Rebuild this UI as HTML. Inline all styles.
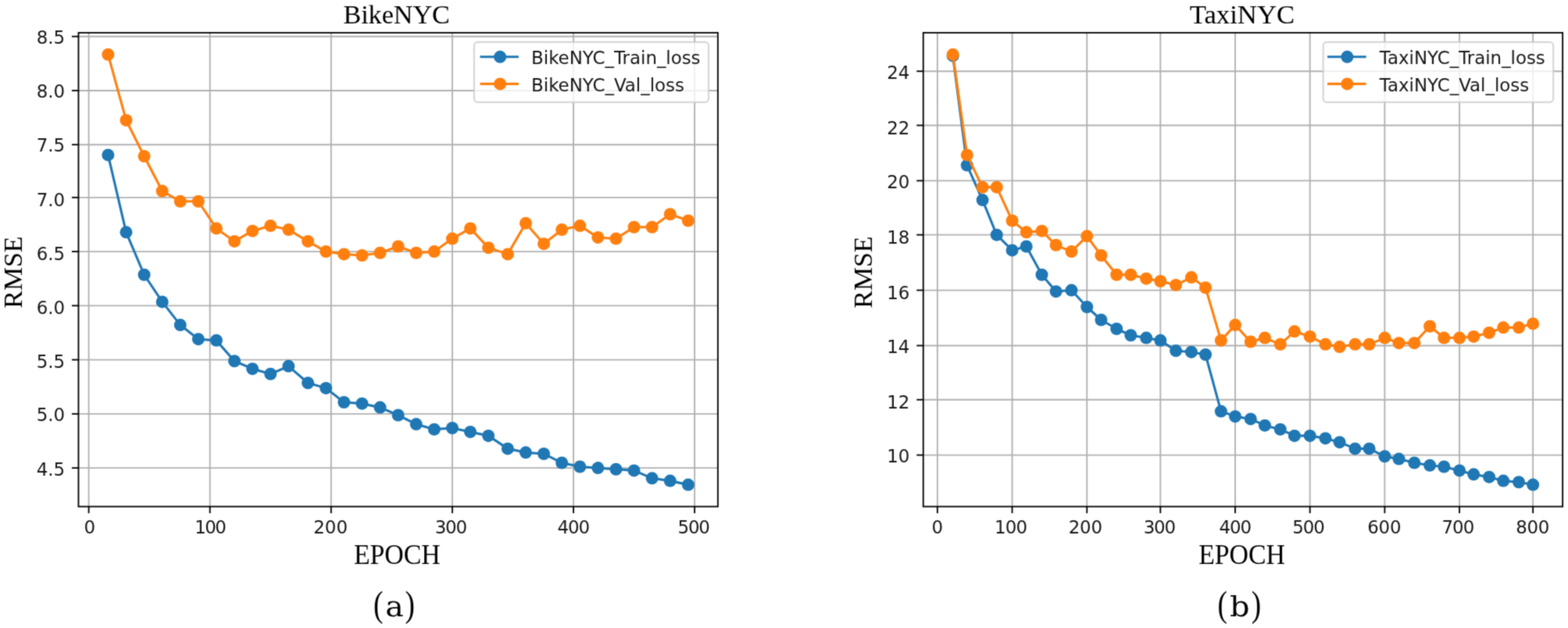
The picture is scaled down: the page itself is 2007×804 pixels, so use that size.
<!DOCTYPE html>
<html lang="en">
<head>
<meta charset="utf-8">
<title>BikeNYC / TaxiNYC training curves</title>
<style>
html, body { margin: 0; padding: 0; background: #ffffff; }
body { width: 2007px; height: 804px; overflow: hidden; }
svg { display: block; }
text { white-space: pre; }
</style>
</head>
<body>
<svg width="2007" height="804" viewBox="0 0 2007 804">
<defs>
<filter id="soft" x="0" y="0" width="2007" height="804" filterUnits="userSpaceOnUse" color-interpolation-filters="sRGB">
<feConvolveMatrix order="3" kernelMatrix="0.03240 0.11520 0.03240 0.11520 0.40960 0.11520 0.03240 0.11520 0.03240" divisor="1" bias="0" edgeMode="duplicate" preserveAlpha="true"/>
</filter>
</defs>
<rect x="0" y="0" width="2007" height="804" fill="#ffffff"/>
<g filter="url(#soft)">
<rect x="0" y="0" width="2007" height="804" fill="#ffffff"/>
<g id="plot1">
<g stroke="#b0b0b0" stroke-width="1.85" fill="none">
<line x1="113.6" y1="41.9" x2="113.6" y2="648.55"/>
<line x1="268.7" y1="41.9" x2="268.7" y2="648.55"/>
<line x1="423.8" y1="41.9" x2="423.8" y2="648.55"/>
<line x1="578.9" y1="41.9" x2="578.9" y2="648.55"/>
<line x1="734" y1="41.9" x2="734" y2="648.55"/>
<line x1="889.1" y1="41.9" x2="889.1" y2="648.55"/>
<line x1="100.45" y1="46.7" x2="918.85" y2="46.7"/>
<line x1="100.45" y1="115.96" x2="918.85" y2="115.96"/>
<line x1="100.45" y1="185.22" x2="918.85" y2="185.22"/>
<line x1="100.45" y1="252.82" x2="918.85" y2="252.82"/>
<line x1="100.45" y1="322.08" x2="918.85" y2="322.08"/>
<line x1="100.45" y1="391.34" x2="918.85" y2="391.34"/>
<line x1="100.45" y1="460.6" x2="918.85" y2="460.6"/>
<line x1="100.45" y1="529.86" x2="918.85" y2="529.86"/>
<line x1="100.45" y1="599.12" x2="918.85" y2="599.12"/>
</g>
<g fill="#1f77b4" stroke="none">
<polyline points="138.35,198.41 161.45,297.35 184.55,351.76 207.65,386.39 230.75,416.08 253.85,434.21 276.95,435.86 300.05,462.25 323.15,472.14 346.25,478.74 369.35,468.84 394.1,490.28 417.2,496.88 440.3,515.02 463.4,516.67 486.5,521.61 509.6,531.51 532.7,543.05 555.8,549.64 578.9,548 602,552.94 625.1,557.89 649.85,574.38 672.95,579.33 696.05,580.98 719.15,592.52 742.25,597.47 765.35,599.12 788.45,600.76 811.55,602.41 834.65,612.31 857.75,615.61 880.85,620.55" fill="none" stroke="#1f77b4" stroke-width="3.1" stroke-linejoin="round" stroke-linecap="square"/>
<circle cx="138.35" cy="198.41" r="8.0"/>
<circle cx="161.45" cy="297.35" r="8.0"/>
<circle cx="184.55" cy="351.76" r="8.0"/>
<circle cx="207.65" cy="386.39" r="8.0"/>
<circle cx="230.75" cy="416.08" r="8.0"/>
<circle cx="253.85" cy="434.21" r="8.0"/>
<circle cx="276.95" cy="435.86" r="8.0"/>
<circle cx="300.05" cy="462.25" r="8.0"/>
<circle cx="323.15" cy="472.14" r="8.0"/>
<circle cx="346.25" cy="478.74" r="8.0"/>
<circle cx="369.35" cy="468.84" r="8.0"/>
<circle cx="394.1" cy="490.28" r="8.0"/>
<circle cx="417.2" cy="496.88" r="8.0"/>
<circle cx="440.3" cy="515.02" r="8.0"/>
<circle cx="463.4" cy="516.67" r="8.0"/>
<circle cx="486.5" cy="521.61" r="8.0"/>
<circle cx="509.6" cy="531.51" r="8.0"/>
<circle cx="532.7" cy="543.05" r="8.0"/>
<circle cx="555.8" cy="549.64" r="8.0"/>
<circle cx="578.9" cy="548" r="8.0"/>
<circle cx="602" cy="552.94" r="8.0"/>
<circle cx="625.1" cy="557.89" r="8.0"/>
<circle cx="649.85" cy="574.38" r="8.0"/>
<circle cx="672.95" cy="579.33" r="8.0"/>
<circle cx="696.05" cy="580.98" r="8.0"/>
<circle cx="719.15" cy="592.52" r="8.0"/>
<circle cx="742.25" cy="597.47" r="8.0"/>
<circle cx="765.35" cy="599.12" r="8.0"/>
<circle cx="788.45" cy="600.76" r="8.0"/>
<circle cx="811.55" cy="602.41" r="8.0"/>
<circle cx="834.65" cy="612.31" r="8.0"/>
<circle cx="857.75" cy="615.61" r="8.0"/>
<circle cx="880.85" cy="620.55" r="8.0"/>
</g>
<g fill="#ff7f0e" stroke="none">
<polyline points="138.35,69.79 161.45,153.88 184.55,200.06 207.65,244.58 230.75,257.77 253.85,257.77 276.95,292.4 300.05,308.89 323.15,295.7 346.25,289.1 369.35,294.05 394.1,308.89 417.2,322.08 440.3,325.38 463.4,327.03 486.5,323.73 509.6,315.49 532.7,323.73 555.8,322.08 578.9,305.59 602,292.4 625.1,317.14 649.85,325.38 672.95,285.81 696.05,312.19 719.15,294.05 742.25,289.1 765.35,303.94 788.45,305.59 811.55,290.75 834.65,290.75 857.75,274.26 880.85,282.51" fill="none" stroke="#ff7f0e" stroke-width="3.1" stroke-linejoin="round" stroke-linecap="square"/>
<circle cx="138.35" cy="69.79" r="8.0"/>
<circle cx="161.45" cy="153.88" r="8.0"/>
<circle cx="184.55" cy="200.06" r="8.0"/>
<circle cx="207.65" cy="244.58" r="8.0"/>
<circle cx="230.75" cy="257.77" r="8.0"/>
<circle cx="253.85" cy="257.77" r="8.0"/>
<circle cx="276.95" cy="292.4" r="8.0"/>
<circle cx="300.05" cy="308.89" r="8.0"/>
<circle cx="323.15" cy="295.7" r="8.0"/>
<circle cx="346.25" cy="289.1" r="8.0"/>
<circle cx="369.35" cy="294.05" r="8.0"/>
<circle cx="394.1" cy="308.89" r="8.0"/>
<circle cx="417.2" cy="322.08" r="8.0"/>
<circle cx="440.3" cy="325.38" r="8.0"/>
<circle cx="463.4" cy="327.03" r="8.0"/>
<circle cx="486.5" cy="323.73" r="8.0"/>
<circle cx="509.6" cy="315.49" r="8.0"/>
<circle cx="532.7" cy="323.73" r="8.0"/>
<circle cx="555.8" cy="322.08" r="8.0"/>
<circle cx="578.9" cy="305.59" r="8.0"/>
<circle cx="602" cy="292.4" r="8.0"/>
<circle cx="625.1" cy="317.14" r="8.0"/>
<circle cx="649.85" cy="325.38" r="8.0"/>
<circle cx="672.95" cy="285.81" r="8.0"/>
<circle cx="696.05" cy="312.19" r="8.0"/>
<circle cx="719.15" cy="294.05" r="8.0"/>
<circle cx="742.25" cy="289.1" r="8.0"/>
<circle cx="765.35" cy="303.94" r="8.0"/>
<circle cx="788.45" cy="305.59" r="8.0"/>
<circle cx="811.55" cy="290.75" r="8.0"/>
<circle cx="834.65" cy="290.75" r="8.0"/>
<circle cx="857.75" cy="274.26" r="8.0"/>
<circle cx="880.85" cy="282.51" r="8.0"/>
</g>
<rect x="100.45" y="41.9" width="818.4" height="606.65" fill="none" stroke="#000000" stroke-width="1.85"/>
<g stroke="#000000" stroke-width="1.85">
<line x1="113.6" y1="648.55" x2="113.6" y2="657.05"/>
<line x1="268.7" y1="648.55" x2="268.7" y2="657.05"/>
<line x1="423.8" y1="648.55" x2="423.8" y2="657.05"/>
<line x1="578.9" y1="648.55" x2="578.9" y2="657.05"/>
<line x1="734" y1="648.55" x2="734" y2="657.05"/>
<line x1="889.1" y1="648.55" x2="889.1" y2="657.05"/>
<line x1="91.95" y1="46.7" x2="100.45" y2="46.7"/>
<line x1="91.95" y1="115.96" x2="100.45" y2="115.96"/>
<line x1="91.95" y1="185.22" x2="100.45" y2="185.22"/>
<line x1="91.95" y1="252.82" x2="100.45" y2="252.82"/>
<line x1="91.95" y1="322.08" x2="100.45" y2="322.08"/>
<line x1="91.95" y1="391.34" x2="100.45" y2="391.34"/>
<line x1="91.95" y1="460.6" x2="100.45" y2="460.6"/>
<line x1="91.95" y1="529.86" x2="100.45" y2="529.86"/>
<line x1="91.95" y1="599.12" x2="100.45" y2="599.12"/>
</g>
<g font-family="'DejaVu Sans', 'Liberation Sans', sans-serif" font-size="22.9" fill="#161616">
<text x="107.62" y="682.8">0</text>
<text x="249.15" y="682.8" letter-spacing="-1.5">100</text>
<text x="401.25" y="682.8">200</text>
<text x="556.75" y="682.8" letter-spacing="-1.2">300</text>
<text x="713.45" y="682.8" letter-spacing="-1">400</text>
<text x="867.55" y="682.8" letter-spacing="-1.2">500</text>
<text x="83.05" y="55.9" text-anchor="end">8.5</text>
<text x="83.05" y="125.16" text-anchor="end">8.0</text>
<text x="83.05" y="194.42" text-anchor="end">7.5</text>
<text x="83.05" y="263.68" text-anchor="end">7.0</text>
<text x="83.05" y="332.93" text-anchor="end">6.5</text>
<text x="83.05" y="402.19" text-anchor="end">6.0</text>
<text x="83.05" y="471.45" text-anchor="end">5.5</text>
<text x="83.05" y="539.06" text-anchor="end">5.0</text>
<text x="83.05" y="609.41" text-anchor="end">4.5</text>
</g>
<g font-family="'Liberation Serif', 'DejaVu Serif', serif" font-size="34.4" fill="#000000">
<text x="507.6" y="29.5" text-anchor="middle" font-size="34.4" textLength="136.4" lengthAdjust="spacingAndGlyphs">BikeNYC</text>
<text x="508.35" y="722.1" text-anchor="middle" font-size="34.8" textLength="110.9" lengthAdjust="spacingAndGlyphs">EPOCH</text>
<text transform="translate(27.9,348.6) rotate(-90)" text-anchor="middle" font-size="34.4" textLength="92.2" lengthAdjust="spacingAndGlyphs">RMSE</text>
</g>
<g>
<rect x="606.9" y="53.9" width="300.1" height="76.9" rx="4.5" ry="4.5" fill="#ffffff" fill-opacity="0.8" stroke="#cccccc" stroke-opacity="0.8" stroke-width="2.2"/>
<line x1="616.0" y1="72.8" x2="662.3" y2="72.8" stroke="#1f77b4" stroke-width="3.1" stroke-linecap="square"/>
<circle cx="640.1" cy="72.8" r="8.0" fill="#1f77b4"/>
<line x1="616.0" y1="107.4" x2="662.3" y2="107.4" stroke="#ff7f0e" stroke-width="3.1" stroke-linecap="square"/>
<circle cx="640.1" cy="107.4" r="8.0" fill="#ff7f0e"/>
<g font-family="'DejaVu Sans', 'Liberation Sans', sans-serif" font-size="22.9" fill="#161616">
<text x="680.1" y="82.3">BikeNYC_Train_loss</text>
<text x="680.1" y="116.8">BikeNYC_Val_loss</text>
</g></g>
<text font-family="'Liberation Serif', 'DejaVu Serif', serif" font-size="46.2" fill="#000000" y="788.9"><tspan x="478" y="788.9" textLength="12.4" lengthAdjust="spacingAndGlyphs">(</tspan><tspan x="493.2" y="788.6" font-family="'DejaVu Serif', 'Liberation Serif', serif" font-size="35" textLength="23.4" lengthAdjust="spacingAndGlyphs">a</tspan><tspan x="518.4" y="788.9" textLength="12.4" lengthAdjust="spacingAndGlyphs">)</tspan></text>
</g>
<g id="plot2">
<g stroke="#b0b0b0" stroke-width="1.85" fill="none">
<line x1="1199.85" y1="41.9" x2="1199.85" y2="648.55"/>
<line x1="1295.55" y1="41.9" x2="1295.55" y2="648.55"/>
<line x1="1391.25" y1="41.9" x2="1391.25" y2="648.55"/>
<line x1="1485.3" y1="41.9" x2="1485.3" y2="648.55"/>
<line x1="1581" y1="41.9" x2="1581" y2="648.55"/>
<line x1="1676.7" y1="41.9" x2="1676.7" y2="648.55"/>
<line x1="1772.4" y1="41.9" x2="1772.4" y2="648.55"/>
<line x1="1868.1" y1="41.9" x2="1868.1" y2="648.55"/>
<line x1="1962.15" y1="41.9" x2="1962.15" y2="648.55"/>
<line x1="1181.75" y1="91.22" x2="2000.15" y2="91.22"/>
<line x1="1181.75" y1="160.48" x2="2000.15" y2="160.48"/>
<line x1="1181.75" y1="231.39" x2="2000.15" y2="231.39"/>
<line x1="1181.75" y1="300.65" x2="2000.15" y2="300.65"/>
<line x1="1181.75" y1="371.55" x2="2000.15" y2="371.55"/>
<line x1="1181.75" y1="442.46" x2="2000.15" y2="442.46"/>
<line x1="1181.75" y1="511.72" x2="2000.15" y2="511.72"/>
<line x1="1181.75" y1="582.62" x2="2000.15" y2="582.62"/>
</g>
<g fill="#1f77b4" stroke="none">
<polyline points="1219.65,71.44 1237.8,211.6 1257.6,256.12 1275.75,300.65 1295.55,320.43 1313.7,315.49 1333.5,351.76 1351.65,373.2 1371.45,371.55 1391.25,392.99 1409.4,409.48 1429.2,421.02 1447.35,429.27 1467.15,432.57 1485.3,435.86 1505.1,449.06 1524.9,450.7 1543.05,454 1562.85,526.56 1581,533.15 1600.8,536.45 1618.95,544.7 1638.75,549.64 1656.9,557.89 1676.7,557.89 1696.5,561.19 1714.65,566.14 1734.45,574.38 1752.6,574.38 1772.4,584.27 1790.55,587.57 1810.35,592.52 1830.15,595.82 1848.3,597.47 1868.1,602.41 1886.25,607.36 1906.05,610.66 1924.2,615.61 1944,617.25 1962.15,620.55" fill="none" stroke="#1f77b4" stroke-width="3.1" stroke-linejoin="round" stroke-linecap="square"/>
<circle cx="1219.65" cy="71.44" r="8.0"/>
<circle cx="1237.8" cy="211.6" r="8.0"/>
<circle cx="1257.6" cy="256.12" r="8.0"/>
<circle cx="1275.75" cy="300.65" r="8.0"/>
<circle cx="1295.55" cy="320.43" r="8.0"/>
<circle cx="1313.7" cy="315.49" r="8.0"/>
<circle cx="1333.5" cy="351.76" r="8.0"/>
<circle cx="1351.65" cy="373.2" r="8.0"/>
<circle cx="1371.45" cy="371.55" r="8.0"/>
<circle cx="1391.25" cy="392.99" r="8.0"/>
<circle cx="1409.4" cy="409.48" r="8.0"/>
<circle cx="1429.2" cy="421.02" r="8.0"/>
<circle cx="1447.35" cy="429.27" r="8.0"/>
<circle cx="1467.15" cy="432.57" r="8.0"/>
<circle cx="1485.3" cy="435.86" r="8.0"/>
<circle cx="1505.1" cy="449.06" r="8.0"/>
<circle cx="1524.9" cy="450.7" r="8.0"/>
<circle cx="1543.05" cy="454" r="8.0"/>
<circle cx="1562.85" cy="526.56" r="8.0"/>
<circle cx="1581" cy="533.15" r="8.0"/>
<circle cx="1600.8" cy="536.45" r="8.0"/>
<circle cx="1618.95" cy="544.7" r="8.0"/>
<circle cx="1638.75" cy="549.64" r="8.0"/>
<circle cx="1656.9" cy="557.89" r="8.0"/>
<circle cx="1676.7" cy="557.89" r="8.0"/>
<circle cx="1696.5" cy="561.19" r="8.0"/>
<circle cx="1714.65" cy="566.14" r="8.0"/>
<circle cx="1734.45" cy="574.38" r="8.0"/>
<circle cx="1752.6" cy="574.38" r="8.0"/>
<circle cx="1772.4" cy="584.27" r="8.0"/>
<circle cx="1790.55" cy="587.57" r="8.0"/>
<circle cx="1810.35" cy="592.52" r="8.0"/>
<circle cx="1830.15" cy="595.82" r="8.0"/>
<circle cx="1848.3" cy="597.47" r="8.0"/>
<circle cx="1868.1" cy="602.41" r="8.0"/>
<circle cx="1886.25" cy="607.36" r="8.0"/>
<circle cx="1906.05" cy="610.66" r="8.0"/>
<circle cx="1924.2" cy="615.61" r="8.0"/>
<circle cx="1944" cy="617.25" r="8.0"/>
<circle cx="1962.15" cy="620.55" r="8.0"/>
</g>
<g fill="#ff7f0e" stroke="none">
<polyline points="1219.65,69.79 1237.8,198.41 1257.6,239.63 1275.75,239.63 1295.55,282.51 1313.7,297.35 1333.5,295.7 1351.65,313.84 1371.45,322.08 1391.25,302.3 1409.4,327.03 1429.2,351.76 1447.35,351.76 1467.15,356.71 1485.3,360.01 1505.1,364.96 1524.9,355.06 1543.05,368.25 1562.85,435.86 1581,416.08 1600.8,437.51 1618.95,432.57 1638.75,440.81 1656.9,424.32 1676.7,430.92 1696.5,440.81 1714.65,444.11 1734.45,440.81 1752.6,440.81 1772.4,432.57 1790.55,439.16 1810.35,439.16 1830.15,417.72 1848.3,432.57 1868.1,432.57 1886.25,430.92 1906.05,425.97 1924.2,419.37 1944,419.37 1962.15,414.43" fill="none" stroke="#ff7f0e" stroke-width="3.1" stroke-linejoin="round" stroke-linecap="square"/>
<circle cx="1219.65" cy="69.79" r="8.0"/>
<circle cx="1237.8" cy="198.41" r="8.0"/>
<circle cx="1257.6" cy="239.63" r="8.0"/>
<circle cx="1275.75" cy="239.63" r="8.0"/>
<circle cx="1295.55" cy="282.51" r="8.0"/>
<circle cx="1313.7" cy="297.35" r="8.0"/>
<circle cx="1333.5" cy="295.7" r="8.0"/>
<circle cx="1351.65" cy="313.84" r="8.0"/>
<circle cx="1371.45" cy="322.08" r="8.0"/>
<circle cx="1391.25" cy="302.3" r="8.0"/>
<circle cx="1409.4" cy="327.03" r="8.0"/>
<circle cx="1429.2" cy="351.76" r="8.0"/>
<circle cx="1447.35" cy="351.76" r="8.0"/>
<circle cx="1467.15" cy="356.71" r="8.0"/>
<circle cx="1485.3" cy="360.01" r="8.0"/>
<circle cx="1505.1" cy="364.96" r="8.0"/>
<circle cx="1524.9" cy="355.06" r="8.0"/>
<circle cx="1543.05" cy="368.25" r="8.0"/>
<circle cx="1562.85" cy="435.86" r="8.0"/>
<circle cx="1581" cy="416.08" r="8.0"/>
<circle cx="1600.8" cy="437.51" r="8.0"/>
<circle cx="1618.95" cy="432.57" r="8.0"/>
<circle cx="1638.75" cy="440.81" r="8.0"/>
<circle cx="1656.9" cy="424.32" r="8.0"/>
<circle cx="1676.7" cy="430.92" r="8.0"/>
<circle cx="1696.5" cy="440.81" r="8.0"/>
<circle cx="1714.65" cy="444.11" r="8.0"/>
<circle cx="1734.45" cy="440.81" r="8.0"/>
<circle cx="1752.6" cy="440.81" r="8.0"/>
<circle cx="1772.4" cy="432.57" r="8.0"/>
<circle cx="1790.55" cy="439.16" r="8.0"/>
<circle cx="1810.35" cy="439.16" r="8.0"/>
<circle cx="1830.15" cy="417.72" r="8.0"/>
<circle cx="1848.3" cy="432.57" r="8.0"/>
<circle cx="1868.1" cy="432.57" r="8.0"/>
<circle cx="1886.25" cy="430.92" r="8.0"/>
<circle cx="1906.05" cy="425.97" r="8.0"/>
<circle cx="1924.2" cy="419.37" r="8.0"/>
<circle cx="1944" cy="419.37" r="8.0"/>
<circle cx="1962.15" cy="414.43" r="8.0"/>
</g>
<rect x="1181.75" y="41.9" width="818.4" height="606.65" fill="none" stroke="#000000" stroke-width="1.85"/>
<g stroke="#000000" stroke-width="1.85">
<line x1="1199.85" y1="648.55" x2="1199.85" y2="657.05"/>
<line x1="1295.55" y1="648.55" x2="1295.55" y2="657.05"/>
<line x1="1391.25" y1="648.55" x2="1391.25" y2="657.05"/>
<line x1="1485.3" y1="648.55" x2="1485.3" y2="657.05"/>
<line x1="1581" y1="648.55" x2="1581" y2="657.05"/>
<line x1="1676.7" y1="648.55" x2="1676.7" y2="657.05"/>
<line x1="1772.4" y1="648.55" x2="1772.4" y2="657.05"/>
<line x1="1868.1" y1="648.55" x2="1868.1" y2="657.05"/>
<line x1="1962.15" y1="648.55" x2="1962.15" y2="657.05"/>
<line x1="1173.25" y1="91.22" x2="1181.75" y2="91.22"/>
<line x1="1173.25" y1="160.48" x2="1181.75" y2="160.48"/>
<line x1="1173.25" y1="231.39" x2="1181.75" y2="231.39"/>
<line x1="1173.25" y1="300.65" x2="1181.75" y2="300.65"/>
<line x1="1173.25" y1="371.55" x2="1181.75" y2="371.55"/>
<line x1="1173.25" y1="442.46" x2="1181.75" y2="442.46"/>
<line x1="1173.25" y1="511.72" x2="1181.75" y2="511.72"/>
<line x1="1173.25" y1="582.62" x2="1181.75" y2="582.62"/>
</g>
<g font-family="'DejaVu Sans', 'Liberation Sans', sans-serif" font-size="22.9" fill="#161616">
<text x="1192.47" y="682.8">0</text>
<text x="1273" y="682.8" letter-spacing="-0.85">100</text>
<text x="1367.7" y="682.8" letter-spacing="-0.2">200</text>
<text x="1463.75" y="682.8" letter-spacing="-1.25">300</text>
<text x="1560.45" y="682.8" letter-spacing="-1">400</text>
<text x="1654.35" y="682.8" letter-spacing="-1.05">500</text>
<text x="1750.25" y="682.8" letter-spacing="-0.2">600</text>
<text x="1845.55" y="682.8" letter-spacing="-1">700</text>
<text x="1940.3" y="682.8" letter-spacing="-0.35">800</text>
<text x="1164.35" y="100.82" text-anchor="end">24</text>
<text x="1164.35" y="171.78" text-anchor="end">22</text>
<text x="1164.35" y="240.99" text-anchor="end">20</text>
<text x="1164.35" y="311.95" text-anchor="end">18</text>
<text x="1164.35" y="382.85" text-anchor="end">16</text>
<text x="1164.35" y="452.06" text-anchor="end">14</text>
<text x="1164.35" y="523.02" text-anchor="end">12</text>
<text x="1164.35" y="592.22" text-anchor="end">10</text>
</g>
<g font-family="'Liberation Serif', 'DejaVu Serif', serif" font-size="34.4" fill="#000000">
<text x="1589.9" y="29.5" text-anchor="middle" font-size="34.4" textLength="134.4" lengthAdjust="spacingAndGlyphs">TaxiNYC</text>
<text x="1589.6" y="722.1" text-anchor="middle" font-size="34.8" textLength="110.9" lengthAdjust="spacingAndGlyphs">EPOCH</text>
<text transform="translate(1115.7,348.6) rotate(-90)" text-anchor="middle" font-size="34.4" textLength="92.2" lengthAdjust="spacingAndGlyphs">RMSE</text>
</g>
<g>
<rect x="1693.7" y="53.9" width="294.5" height="76.9" rx="4.5" ry="4.5" fill="#ffffff" fill-opacity="0.8" stroke="#cccccc" stroke-opacity="0.8" stroke-width="2.2"/>
<line x1="1700.6" y1="72.8" x2="1747.1" y2="72.8" stroke="#1f77b4" stroke-width="3.1" stroke-linecap="square"/>
<circle cx="1724.4" cy="72.8" r="8.0" fill="#1f77b4"/>
<line x1="1700.6" y1="107.4" x2="1747.1" y2="107.4" stroke="#ff7f0e" stroke-width="3.1" stroke-linecap="square"/>
<circle cx="1724.4" cy="107.4" r="8.0" fill="#ff7f0e"/>
<g font-family="'DejaVu Sans', 'Liberation Sans', sans-serif" font-size="22.9" fill="#161616">
<text x="1765.8" y="82.3">TaxiNYC_Train_loss</text>
<text x="1765.8" y="116.8">TaxiNYC_Val_loss</text>
</g></g>
<text font-family="'Liberation Serif', 'DejaVu Serif', serif" font-size="46.2" fill="#000000" y="788.9"><tspan x="1558.4" y="788.9" textLength="12.4" lengthAdjust="spacingAndGlyphs">(</tspan><tspan x="1573.9" y="788.6" font-family="'DejaVu Serif', 'Liberation Serif', serif" font-size="36.2" textLength="25.6" lengthAdjust="spacingAndGlyphs">b</tspan><tspan x="1601.7" y="788.9" textLength="12.4" lengthAdjust="spacingAndGlyphs">)</tspan></text>
</g>
</g>
</svg>
</body>
</html>
